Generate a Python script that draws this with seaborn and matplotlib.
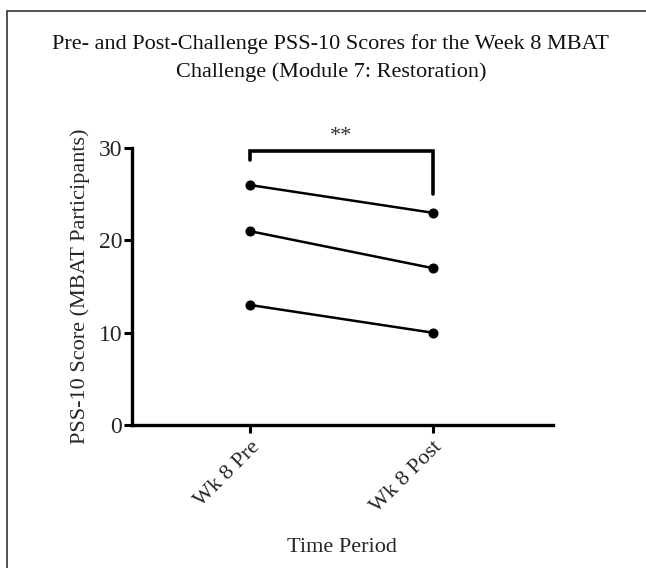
import pandas as pd
import matplotlib.pyplot as plt
import seaborn as sns
from matplotlib.patches import Rectangle

# Paired PSS-10 scores, one participant per entry
participants = ["P1", "P2", "P3"]
periods = ["Wk 8 Pre", "Wk 8 Post"]
pre_scores = [26, 21, 13]
post_scores = [23, 17, 10]

rows = []
for pid, pre, post in zip(participants, pre_scores, post_scores):
    rows.append({"participant": pid, "period": periods[0], "score": pre})
    rows.append({"participant": pid, "period": periods[1], "score": post})
df = pd.DataFrame(rows)

sns.set_style("ticks")
plt.rcParams["font.family"] = ["Liberation Serif", "DejaVu Serif"]

fig = plt.figure(figsize=(6.46, 5.68), dpi=100)
ax = fig.add_axes([0.204, 0.252, 0.652, 0.487])

sns.lineplot(
    data=df,
    x="period",
    y="score",
    units="participant",
    estimator=None,
    color="black",
    linewidth=1.8,
    marker="o",
    markersize=6.5,
    markeredgecolor="black",
    ax=ax,
)

ax.set_xlim(-0.65, 1.66)
ax.set_ylim(0, 30)
ax.set_yticks([0, 10, 20, 30])
ax.set_xticks([0, 1])
ax.set_xticklabels(periods, rotation=45, ha="right", rotation_mode="anchor", fontsize=16)
ax.tick_params(axis="y", labelsize=17, width=2.2, length=6, pad=1, color="black")
ax.tick_params(axis="x", width=2.2, length=6, color="black")
for s in ["left", "bottom"]:
    ax.spines[s].set_linewidth(2.4)
    ax.spines[s].set_color("black")
sns.despine(ax=ax)

ax.set_xlabel("Time Period", fontsize=16, labelpad=15)
ax.set_ylabel("PSS-10 Score (MBAT Participants)", fontsize=16, labelpad=6)
fig.text(0.512, 1 - 58 / 568,
         "Pre- and Post-Challenge PSS-10 Scores for the Week 8 MBAT\nChallenge (Module 7: Restoration)",
         ha="center", va="center", fontsize=16, linespacing=1.55, color="#111111")

# significance bracket
ax.plot([0, 0, 1, 1], [28.7, 29.7, 29.7, 25.0], color="black", linewidth=2.6, clip_on=False,
        solid_joinstyle="miter")
ax.text(0.5, 30.2, "**", ha="center", va="bottom", fontsize=16, color="#333333")

# figure border
fig.patches.append(Rectangle((7 / 646, -0.05), 1.1, 1 - 11 / 568 + 0.05, transform=fig.transFigure,
                             fill=False, edgecolor="#333333", linewidth=1.2))

fig.savefig("out.png", dpi=100)
